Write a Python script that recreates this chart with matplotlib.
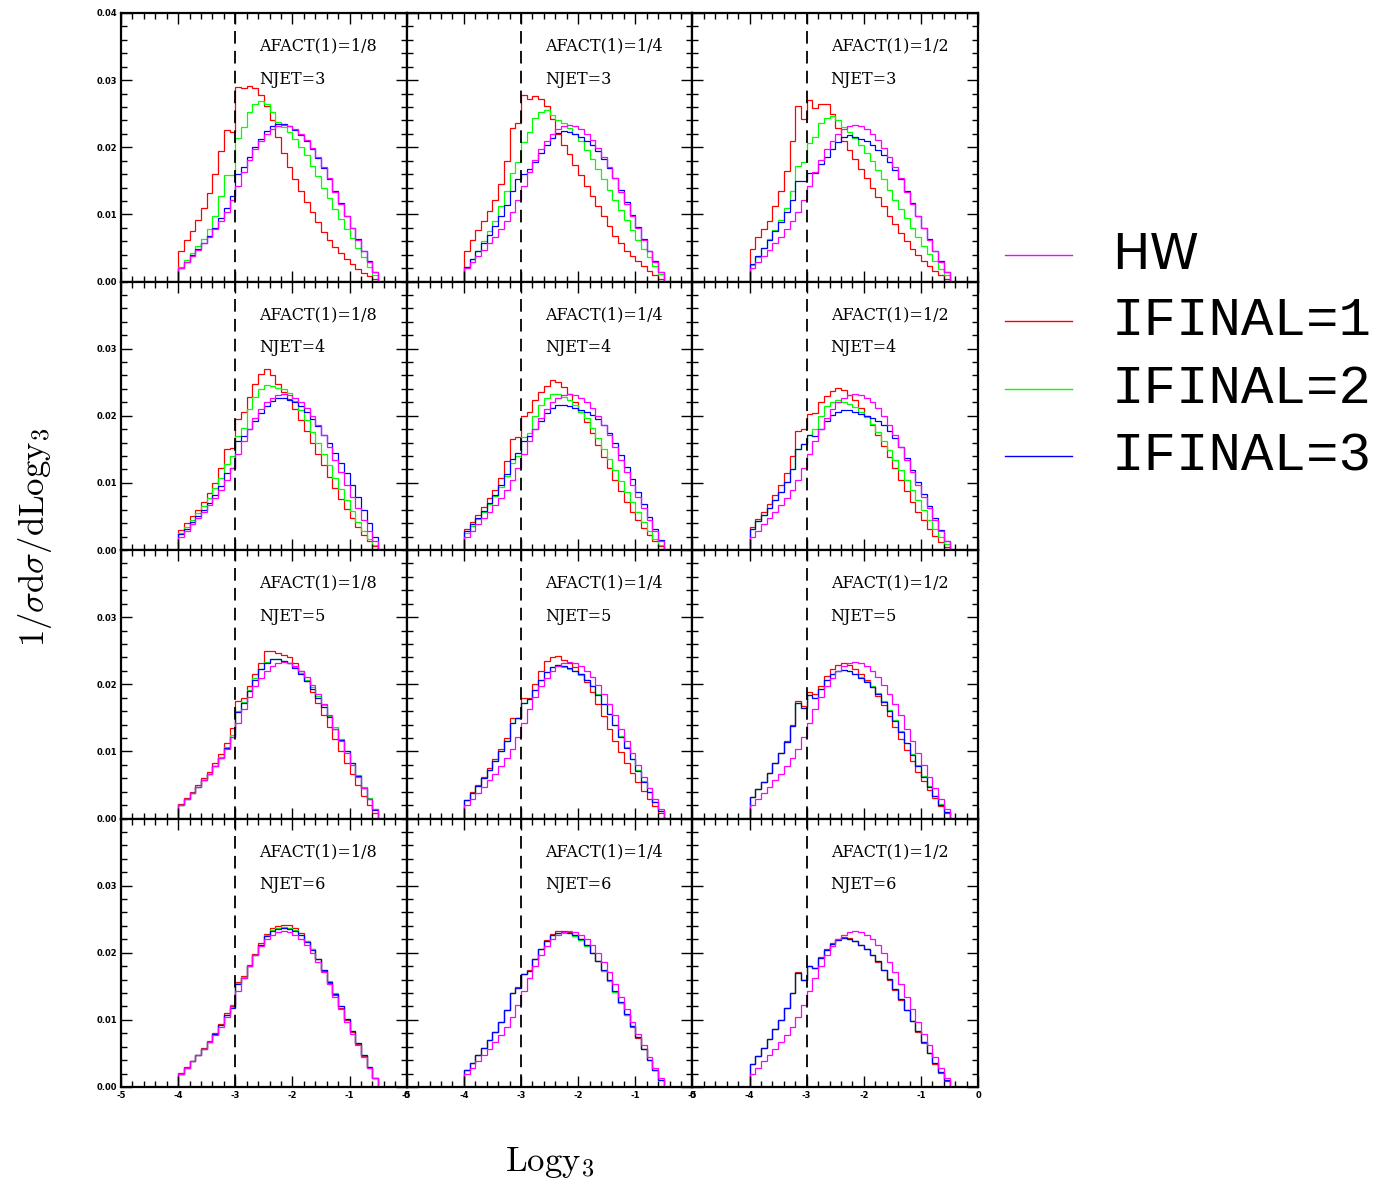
import numpy as np
import matplotlib
matplotlib.use("Agg")
from matplotlib import pyplot as plt
from matplotlib.lines import Line2D
from matplotlib.ticker import MultipleLocator

plt.rcParams["mathtext.fontset"] = "cm"

# bins of 0.1 in Logy3, from -4.0 to -0.5
bin_lo = -4.0
bin_hi = -0.5

njet_rows = [3, 4, 5, 6]
afact_cols = ["1/8", "1/4", "1/2"]
legend_labels = ["HW", "IFINAL=1", "IFINAL=2", "IFINAL=3"]

# HW reference (same in every panel)
hw = [0.0020, 0.0029, 0.0038, 0.0047, 0.0057, 0.0067, 0.0078, 0.0090, 0.0104, 0.0122,
      0.0143, 0.0163, 0.0181, 0.0197, 0.0210, 0.0220, 0.0227, 0.0231, 0.0233, 0.0231,
      0.0227, 0.0220, 0.0211, 0.0199, 0.0186, 0.0171, 0.0154, 0.0134, 0.0116, 0.0097,
      0.0079, 0.0062, 0.0045, 0.0029, 0.0014]

# NJET=3
red_n3_a8 = [0.0045, 0.0062, 0.0075, 0.0092, 0.0110, 0.0132, 0.0160, 0.0195, 0.0226, 0.0222,
             0.0290, 0.0288, 0.0291, 0.0288, 0.0278, 0.0262, 0.0240, 0.0216, 0.0192, 0.0170,
             0.0152, 0.0135, 0.0118, 0.0103, 0.0088, 0.0074, 0.0062, 0.0051, 0.0042, 0.0034,
             0.0026, 0.0019, 0.0013, 0.0008, 0.0003]
green_n3_a8 = [0.0022, 0.0032, 0.0042, 0.0053, 0.0064, 0.0078, 0.0098, 0.0128, 0.0158, 0.0158,
               0.0214, 0.0230, 0.0252, 0.0265, 0.0269, 0.0264, 0.0252, 0.0238, 0.0230, 0.0222,
               0.0213, 0.0200, 0.0188, 0.0172, 0.0157, 0.0140, 0.0124, 0.0108, 0.0093, 0.0078,
               0.0065, 0.0050, 0.0036, 0.0022, 0.0010]
blue_n3_a8 = [0.0020, 0.0029, 0.0039, 0.0048, 0.0058, 0.0068, 0.0080, 0.0094, 0.0110, 0.0128,
              0.0160, 0.0170, 0.0185, 0.0200, 0.0213, 0.0224, 0.0232, 0.0235, 0.0234, 0.0231,
              0.0226, 0.0218, 0.0209, 0.0197, 0.0184, 0.0169, 0.0153, 0.0135, 0.0117, 0.0098,
              0.0080, 0.0063, 0.0046, 0.0030, 0.0014]

red_n3_a4 = [0.0045, 0.0062, 0.0076, 0.0090, 0.0105, 0.0122, 0.0145, 0.0180, 0.0228, 0.0236,
             0.0278, 0.0272, 0.0276, 0.0272, 0.0262, 0.0242, 0.0220, 0.0203, 0.0190, 0.0173,
             0.0158, 0.0142, 0.0127, 0.0112, 0.0097, 0.0082, 0.0068, 0.0057, 0.0046, 0.0038,
             0.0030, 0.0023, 0.0016, 0.0010, 0.0004]
green_n3_a4 = [0.0022, 0.0033, 0.0046, 0.0060, 0.0075, 0.0090, 0.0112, 0.0135, 0.0162, 0.0178,
               0.0208, 0.0222, 0.0243, 0.0253, 0.0255, 0.0248, 0.0240, 0.0236, 0.0229, 0.0220,
               0.0210, 0.0196, 0.0183, 0.0168, 0.0152, 0.0136, 0.0121, 0.0106, 0.0091, 0.0076,
               0.0062, 0.0049, 0.0036, 0.0023, 0.0011]
blue_n3_a4 = [0.0022, 0.0034, 0.0045, 0.0057, 0.0069, 0.0082, 0.0097, 0.0114, 0.0135, 0.0152,
              0.0160, 0.0168, 0.0178, 0.0192, 0.0204, 0.0214, 0.0221, 0.0224, 0.0223, 0.0219,
              0.0215, 0.0210, 0.0203, 0.0194, 0.0183, 0.0169, 0.0154, 0.0136, 0.0118, 0.0099,
              0.0081, 0.0063, 0.0046, 0.0030, 0.0014]

red_n3_a2 = [0.0048, 0.0066, 0.0078, 0.0090, 0.0112, 0.0135, 0.0165, 0.0210, 0.0262, 0.0242,
             0.0270, 0.0258, 0.0265, 0.0264, 0.0250, 0.0228, 0.0210, 0.0196, 0.0182, 0.0168,
             0.0154, 0.0140, 0.0126, 0.0112, 0.0098, 0.0085, 0.0072, 0.0060, 0.0049, 0.0040,
             0.0031, 0.0023, 0.0016, 0.0010, 0.0004]
green_n3_a2 = [0.0024, 0.0036, 0.0050, 0.0063, 0.0077, 0.0092, 0.0110, 0.0135, 0.0172, 0.0178,
               0.0206, 0.0215, 0.0236, 0.0244, 0.0246, 0.0240, 0.0230, 0.0222, 0.0214, 0.0204,
               0.0192, 0.0180, 0.0166, 0.0152, 0.0137, 0.0122, 0.0108, 0.0094, 0.0080, 0.0066,
               0.0053, 0.0041, 0.0030, 0.0019, 0.0009]
blue_n3_a2 = [0.0026, 0.0038, 0.0050, 0.0062, 0.0075, 0.0088, 0.0103, 0.0122, 0.0150, 0.0150,
              0.0162, 0.0162, 0.0175, 0.0186, 0.0198, 0.0208, 0.0215, 0.0218, 0.0216, 0.0212,
              0.0210, 0.0204, 0.0196, 0.0188, 0.0178, 0.0166, 0.0152, 0.0135, 0.0117, 0.0098,
              0.0080, 0.0063, 0.0046, 0.0030, 0.0014]

# NJET=4
red_n4_a8 = [0.0030, 0.0040, 0.0050, 0.0060, 0.0072, 0.0085, 0.0100, 0.0122, 0.0150, 0.0152,
             0.0195, 0.0205, 0.0228, 0.0248, 0.0262, 0.0269, 0.0260, 0.0248, 0.0236, 0.0225,
             0.0210, 0.0193, 0.0177, 0.0160, 0.0143, 0.0126, 0.0109, 0.0092, 0.0076, 0.0061,
             0.0047, 0.0034, 0.0022, 0.0013, 0.0006]
green_n4_a8 = [0.0026, 0.0035, 0.0045, 0.0055, 0.0066, 0.0078, 0.0092, 0.0108, 0.0128, 0.0140,
               0.0170, 0.0182, 0.0210, 0.0228, 0.0240, 0.0246, 0.0244, 0.0241, 0.0240, 0.0234,
               0.0222, 0.0208, 0.0193, 0.0176, 0.0160, 0.0143, 0.0126, 0.0108, 0.0091, 0.0074,
               0.0058, 0.0042, 0.0028, 0.0016, 0.0007]
blue_n4_a8 = [0.0024, 0.0032, 0.0041, 0.0050, 0.0060, 0.0070, 0.0082, 0.0096, 0.0115, 0.0122,
              0.0162, 0.0170, 0.0180, 0.0192, 0.0204, 0.0214, 0.0222, 0.0226, 0.0227, 0.0224,
              0.0220, 0.0214, 0.0205, 0.0195, 0.0184, 0.0172, 0.0159, 0.0145, 0.0130, 0.0114,
              0.0097, 0.0079, 0.0060, 0.0040, 0.0020]

red_n4_a4 = [0.0032, 0.0042, 0.0052, 0.0064, 0.0077, 0.0090, 0.0108, 0.0132, 0.0165, 0.0168,
             0.0200, 0.0205, 0.0224, 0.0235, 0.0245, 0.0253, 0.0250, 0.0243, 0.0233, 0.0221,
             0.0206, 0.0190, 0.0174, 0.0157, 0.0139, 0.0122, 0.0105, 0.0088, 0.0072, 0.0057,
             0.0045, 0.0033, 0.0022, 0.0013, 0.0006]
green_n4_a4 = [0.0026, 0.0036, 0.0046, 0.0056, 0.0068, 0.0080, 0.0094, 0.0110, 0.0130, 0.0140,
               0.0168, 0.0175, 0.0200, 0.0216, 0.0227, 0.0232, 0.0232, 0.0228, 0.0223, 0.0216,
               0.0206, 0.0196, 0.0182, 0.0167, 0.0151, 0.0135, 0.0119, 0.0103, 0.0087, 0.0071,
               0.0056, 0.0042, 0.0029, 0.0017, 0.0008]
blue_n4_a4 = [0.0028, 0.0038, 0.0048, 0.0058, 0.0070, 0.0082, 0.0097, 0.0113, 0.0135, 0.0145,
              0.0163, 0.0170, 0.0180, 0.0192, 0.0204, 0.0212, 0.0216, 0.0216, 0.0214, 0.0211,
              0.0209, 0.0206, 0.0201, 0.0195, 0.0186, 0.0174, 0.0159, 0.0142, 0.0124, 0.0106,
              0.0087, 0.0068, 0.0049, 0.0031, 0.0015]

red_n4_a2 = [0.0034, 0.0046, 0.0056, 0.0068, 0.0082, 0.0097, 0.0115, 0.0140, 0.0178, 0.0180,
             0.0203, 0.0204, 0.0220, 0.0230, 0.0237, 0.0241, 0.0238, 0.0231, 0.0223, 0.0212,
             0.0200, 0.0186, 0.0171, 0.0155, 0.0138, 0.0122, 0.0105, 0.0088, 0.0072, 0.0057,
             0.0044, 0.0032, 0.0021, 0.0012, 0.0005]
green_n4_a2 = [0.0032, 0.0043, 0.0052, 0.0063, 0.0075, 0.0087, 0.0102, 0.0120, 0.0150, 0.0158,
               0.0172, 0.0180, 0.0200, 0.0214, 0.0221, 0.0223, 0.0221, 0.0218, 0.0213, 0.0206,
               0.0198, 0.0188, 0.0176, 0.0163, 0.0149, 0.0134, 0.0119, 0.0104, 0.0089, 0.0074,
               0.0059, 0.0045, 0.0032, 0.0020, 0.0009]
blue_n4_a2 = [0.0032, 0.0043, 0.0052, 0.0063, 0.0075, 0.0087, 0.0102, 0.0120, 0.0150, 0.0158,
              0.0172, 0.0170, 0.0180, 0.0192, 0.0201, 0.0206, 0.0208, 0.0208, 0.0206, 0.0203,
              0.0199, 0.0196, 0.0192, 0.0186, 0.0178, 0.0167, 0.0153, 0.0137, 0.0119, 0.0101,
              0.0083, 0.0065, 0.0047, 0.0030, 0.0014]

# NJET=5
red_n5_a8 = [0.0022, 0.0031, 0.0040, 0.0050, 0.0060, 0.0070, 0.0082, 0.0096, 0.0112, 0.0135,
             0.0175, 0.0180, 0.0198, 0.0215, 0.0232, 0.0250, 0.0249, 0.0246, 0.0244, 0.0240,
             0.0232, 0.0220, 0.0205, 0.0189, 0.0172, 0.0154, 0.0136, 0.0118, 0.0100, 0.0083,
             0.0066, 0.0050, 0.0034, 0.0020, 0.0008]
green_n5_a8 = [0.0020, 0.0029, 0.0038, 0.0047, 0.0057, 0.0067, 0.0078, 0.0091, 0.0106, 0.0124,
               0.0160, 0.0174, 0.0192, 0.0209, 0.0223, 0.0233, 0.0237, 0.0237, 0.0235, 0.0231,
               0.0225, 0.0217, 0.0207, 0.0196, 0.0183, 0.0169, 0.0153, 0.0136, 0.0119, 0.0101,
               0.0083, 0.0065, 0.0047, 0.0030, 0.0014]
blue_n5_a8 = [0.0020, 0.0029, 0.0038, 0.0047, 0.0057, 0.0067, 0.0078, 0.0090, 0.0105, 0.0122,
              0.0158, 0.0172, 0.0190, 0.0207, 0.0222, 0.0232, 0.0237, 0.0237, 0.0235, 0.0231,
              0.0224, 0.0215, 0.0205, 0.0193, 0.0180, 0.0166, 0.0151, 0.0134, 0.0117, 0.0100,
              0.0082, 0.0064, 0.0046, 0.0029, 0.0013]

red_n5_a4 = [0.0028, 0.0040, 0.0050, 0.0062, 0.0075, 0.0088, 0.0103, 0.0120, 0.0150, 0.0150,
             0.0179, 0.0180, 0.0200, 0.0220, 0.0234, 0.0240, 0.0242, 0.0236, 0.0232, 0.0225,
             0.0215, 0.0203, 0.0188, 0.0170, 0.0152, 0.0134, 0.0116, 0.0099, 0.0083, 0.0068,
             0.0054, 0.0041, 0.0029, 0.0018, 0.0008]
green_n5_a4 = [0.0027, 0.0038, 0.0048, 0.0060, 0.0072, 0.0085, 0.0100, 0.0116, 0.0142, 0.0150,
               0.0172, 0.0178, 0.0192, 0.0207, 0.0218, 0.0225, 0.0228, 0.0226, 0.0223, 0.0219,
               0.0214, 0.0207, 0.0197, 0.0185, 0.0171, 0.0156, 0.0140, 0.0123, 0.0106, 0.0089,
               0.0072, 0.0056, 0.0040, 0.0025, 0.0011]
blue_n5_a4 = [0.0027, 0.0038, 0.0048, 0.0060, 0.0072, 0.0085, 0.0100, 0.0116, 0.0142, 0.0150,
              0.0172, 0.0178, 0.0192, 0.0207, 0.0218, 0.0225, 0.0229, 0.0227, 0.0224, 0.0220,
              0.0215, 0.0207, 0.0197, 0.0184, 0.0170, 0.0155, 0.0139, 0.0122, 0.0105, 0.0088,
              0.0071, 0.0055, 0.0039, 0.0024, 0.0011]

red_n5_a2 = [0.0032, 0.0044, 0.0055, 0.0068, 0.0082, 0.0098, 0.0115, 0.0140, 0.0175, 0.0168,
             0.0188, 0.0185, 0.0198, 0.0212, 0.0223, 0.0229, 0.0231, 0.0228, 0.0222, 0.0215,
             0.0206, 0.0196, 0.0183, 0.0169, 0.0153, 0.0136, 0.0119, 0.0102, 0.0086, 0.0070,
             0.0056, 0.0043, 0.0030, 0.0018, 0.0008]
green_n5_a2 = [0.0032, 0.0044, 0.0055, 0.0068, 0.0082, 0.0097, 0.0114, 0.0138, 0.0172, 0.0165,
               0.0184, 0.0180, 0.0193, 0.0206, 0.0215, 0.0220, 0.0221, 0.0219, 0.0216, 0.0211,
               0.0205, 0.0197, 0.0187, 0.0175, 0.0161, 0.0146, 0.0130, 0.0113, 0.0096, 0.0079,
               0.0063, 0.0048, 0.0034, 0.0021, 0.0009]
blue_n5_a2 = [0.0032, 0.0044, 0.0055, 0.0068, 0.0082, 0.0097, 0.0114, 0.0138, 0.0172, 0.0165,
              0.0184, 0.0180, 0.0193, 0.0206, 0.0215, 0.0220, 0.0221, 0.0219, 0.0215, 0.0210,
              0.0204, 0.0196, 0.0186, 0.0174, 0.0160, 0.0145, 0.0129, 0.0112, 0.0095, 0.0078,
              0.0062, 0.0047, 0.0033, 0.0020, 0.0009]

# NJET=6
red_n6_a8 = [0.0021, 0.0030, 0.0039, 0.0048, 0.0058, 0.0068, 0.0080, 0.0094, 0.0110, 0.0120,
             0.0156, 0.0165, 0.0182, 0.0198, 0.0214, 0.0228, 0.0237, 0.0240, 0.0241, 0.0241,
             0.0237, 0.0229, 0.0218, 0.0205, 0.0190, 0.0173, 0.0155, 0.0137, 0.0118, 0.0100,
             0.0082, 0.0064, 0.0046, 0.0029, 0.0013]
green_n6_a8 = [0.0020, 0.0029, 0.0038, 0.0047, 0.0057, 0.0067, 0.0079, 0.0093, 0.0108, 0.0119,
               0.0155, 0.0164, 0.0181, 0.0197, 0.0212, 0.0226, 0.0234, 0.0237, 0.0238, 0.0237,
               0.0234, 0.0227, 0.0217, 0.0205, 0.0191, 0.0175, 0.0158, 0.0140, 0.0121, 0.0102,
               0.0083, 0.0065, 0.0047, 0.0030, 0.0013]
blue_n6_a8 = [0.0020, 0.0029, 0.0038, 0.0047, 0.0057, 0.0067, 0.0079, 0.0093, 0.0108, 0.0118,
              0.0154, 0.0163, 0.0180, 0.0196, 0.0211, 0.0225, 0.0233, 0.0236, 0.0237, 0.0236,
              0.0233, 0.0226, 0.0216, 0.0204, 0.0190, 0.0174, 0.0157, 0.0139, 0.0120, 0.0102,
              0.0083, 0.0065, 0.0047, 0.0030, 0.0013]

red_n6_a4 = [0.0026, 0.0036, 0.0047, 0.0058, 0.0070, 0.0082, 0.0097, 0.0114, 0.0140, 0.0149,
             0.0169, 0.0174, 0.0191, 0.0206, 0.0219, 0.0228, 0.0232, 0.0233, 0.0231, 0.0227,
             0.0221, 0.0212, 0.0200, 0.0187, 0.0173, 0.0158, 0.0142, 0.0125, 0.0108, 0.0090,
             0.0073, 0.0056, 0.0040, 0.0025, 0.0011]
green_n6_a4 = [0.0026, 0.0036, 0.0047, 0.0058, 0.0070, 0.0082, 0.0097, 0.0114, 0.0140, 0.0148,
               0.0168, 0.0173, 0.0190, 0.0205, 0.0217, 0.0226, 0.0229, 0.0230, 0.0229, 0.0225,
               0.0219, 0.0210, 0.0199, 0.0187, 0.0173, 0.0158, 0.0142, 0.0125, 0.0108, 0.0091,
               0.0074, 0.0057, 0.0040, 0.0025, 0.0011]
blue_n6_a4 = [0.0026, 0.0036, 0.0047, 0.0058, 0.0070, 0.0082, 0.0097, 0.0114, 0.0140, 0.0148,
              0.0168, 0.0173, 0.0190, 0.0205, 0.0217, 0.0226, 0.0230, 0.0231, 0.0230, 0.0226,
              0.0220, 0.0211, 0.0200, 0.0188, 0.0174, 0.0159, 0.0143, 0.0126, 0.0109, 0.0091,
              0.0074, 0.0057, 0.0040, 0.0025, 0.0011]

red_n6_a2 = [0.0034, 0.0046, 0.0058, 0.0072, 0.0086, 0.0100, 0.0117, 0.0140, 0.0171, 0.0160,
             0.0181, 0.0178, 0.0193, 0.0205, 0.0214, 0.0220, 0.0223, 0.0222, 0.0218, 0.0212,
             0.0205, 0.0196, 0.0186, 0.0174, 0.0160, 0.0145, 0.0130, 0.0114, 0.0098, 0.0082,
             0.0066, 0.0050, 0.0035, 0.0021, 0.0009]
green_n6_a2 = [0.0034, 0.0046, 0.0058, 0.0072, 0.0086, 0.0100, 0.0117, 0.0140, 0.0170, 0.0160,
               0.0180, 0.0178, 0.0192, 0.0204, 0.0213, 0.0219, 0.0222, 0.0221, 0.0217, 0.0212,
               0.0205, 0.0197, 0.0187, 0.0175, 0.0161, 0.0146, 0.0131, 0.0115, 0.0099, 0.0083,
               0.0067, 0.0051, 0.0036, 0.0022, 0.0010]
blue_n6_a2 = [0.0034, 0.0046, 0.0058, 0.0072, 0.0086, 0.0100, 0.0117, 0.0140, 0.0170, 0.0160,
              0.0180, 0.0178, 0.0192, 0.0204, 0.0213, 0.0219, 0.0222, 0.0221, 0.0217, 0.0212,
              0.0205, 0.0197, 0.0187, 0.0175, 0.0161, 0.0146, 0.0131, 0.0115, 0.0099, 0.0083,
              0.0067, 0.0051, 0.0036, 0.0022, 0.0010]

panels = [
    [(red_n3_a8, green_n3_a8, blue_n3_a8), (red_n3_a4, green_n3_a4, blue_n3_a4), (red_n3_a2, green_n3_a2, blue_n3_a2)],
    [(red_n4_a8, green_n4_a8, blue_n4_a8), (red_n4_a4, green_n4_a4, blue_n4_a4), (red_n4_a2, green_n4_a2, blue_n4_a2)],
    [(red_n5_a8, green_n5_a8, blue_n5_a8), (red_n5_a4, green_n5_a4, blue_n5_a4), (red_n5_a2, green_n5_a2, blue_n5_a2)],
    [(red_n6_a8, green_n6_a8, blue_n6_a8), (red_n6_a4, green_n6_a4, blue_n6_a4), (red_n6_a2, green_n6_a2, blue_n6_a2)],
]

colors = {"HW": "#ff00ff", "IFINAL=1": "#ff0000", "IFINAL=2": "#00ff00", "IFINAL=3": "#0000ff"}

W, H = 1392, 1185
fig = plt.figure(figsize=(W / 100, H / 100), dpi=100)

# panel grid in pixels
x0, pw = 121, 285.7
y_top, ph = 13, 268.5

edges = np.linspace(bin_lo, bin_hi, len(hw) + 1)
edges = np.concatenate([[bin_lo - 0.1], edges, [bin_hi + 0.1]])

def pad(v):
    return np.concatenate([[0.0], v, [0.0]])

tickfont = dict(family="DejaVu Sans", weight="bold", size=6)

for r, nj in enumerate(njet_rows):
    for c, af in enumerate(afact_cols):
        left = (x0 + c * pw) / W
        bottom = 1 - (y_top + (r + 1) * ph) / H
        ax = fig.add_axes([left, bottom, pw / W, ph / H])
        red, green, blue = panels[r][c]
        ax.stairs(pad(red), edges, baseline=0, color=colors["IFINAL=1"], lw=0.9)
        ax.stairs(pad(green), edges, baseline=0, color=colors["IFINAL=2"], lw=0.9)
        ax.stairs(pad(blue), edges, baseline=0, color=colors["IFINAL=3"], lw=0.9)
        ax.stairs(pad(hw), edges, baseline=0, color=colors["HW"], lw=0.9)
        ax.axvline(-3, color="black", lw=1.3, dashes=(7, 4))
        ax.set_xlim(-5, 0)
        ax.set_ylim(0, 0.04)
        ax.xaxis.set_major_locator(MultipleLocator(1))
        ax.xaxis.set_minor_locator(MultipleLocator(0.2))
        ax.yaxis.set_major_locator(MultipleLocator(0.01))
        ax.yaxis.set_minor_locator(MultipleLocator(0.002))
        ax.tick_params(which="both", direction="in", top=True, right=True, width=1)
        ax.tick_params(which="major", length=8)
        ax.tick_params(which="minor", length=4)
        for s in ax.spines.values():
            s.set_linewidth(1.6)
        if c == 0:
            ticks = [0, 0.01, 0.02, 0.03, 0.04] if r == 0 else [0, 0.01, 0.02, 0.03]
            ax.set_yticks(ticks)
            ax.set_yticklabels([f"{t:.2f}" for t in ticks], fontdict=tickfont)
        else:
            ax.set_yticklabels([])
        if r == len(njet_rows) - 1:
            xt = [-5, -4, -3, -2, -1, 0]
            ax.set_xticks(xt)
            ax.set_xticklabels([str(t) for t in xt], fontdict=tickfont)
        else:
            ax.set_xticklabels([])
        ax.tick_params(axis="both", pad=3)
        ax.text(-2.58, 0.0351, f"AFACT(1)={af}", family="DejaVu Serif", fontsize=11.5,
                va="center", ha="left")
        ax.text(-2.58, 0.0301, f"NJET={nj}", family="DejaVu Serif", fontsize=11.5,
                va="center", ha="left")

fig.text(35 / W, 1 - 537 / H, r"$1/\sigma \mathrm{d}\sigma/\mathrm{dLogy}_3$", rotation=90,
         fontsize=25, ha="center", va="center")
fig.text(550 / W, 1 - 1162 / H, r"$\mathrm{Logy}_3$", fontsize=25, ha="center", va="center")

# legend on the right
leg_y = [255, 321, 389, 456]
for lab, yy in zip(legend_labels, leg_y):
    yf = 1 - yy / H
    fig.add_artist(Line2D([1005 / W, 1072 / W], [yf, yf], color=colors[lab], lw=1.0))
    if lab == "HW":
        fig.text(1112 / W, yf, lab, family="DejaVu Sans", fontsize=36, va="center", ha="left")
    else:
        fig.text(1112 / W, yf, lab, family="Liberation Mono", fontsize=39, va="center", ha="left")

fig.savefig("out.png", dpi=100)
